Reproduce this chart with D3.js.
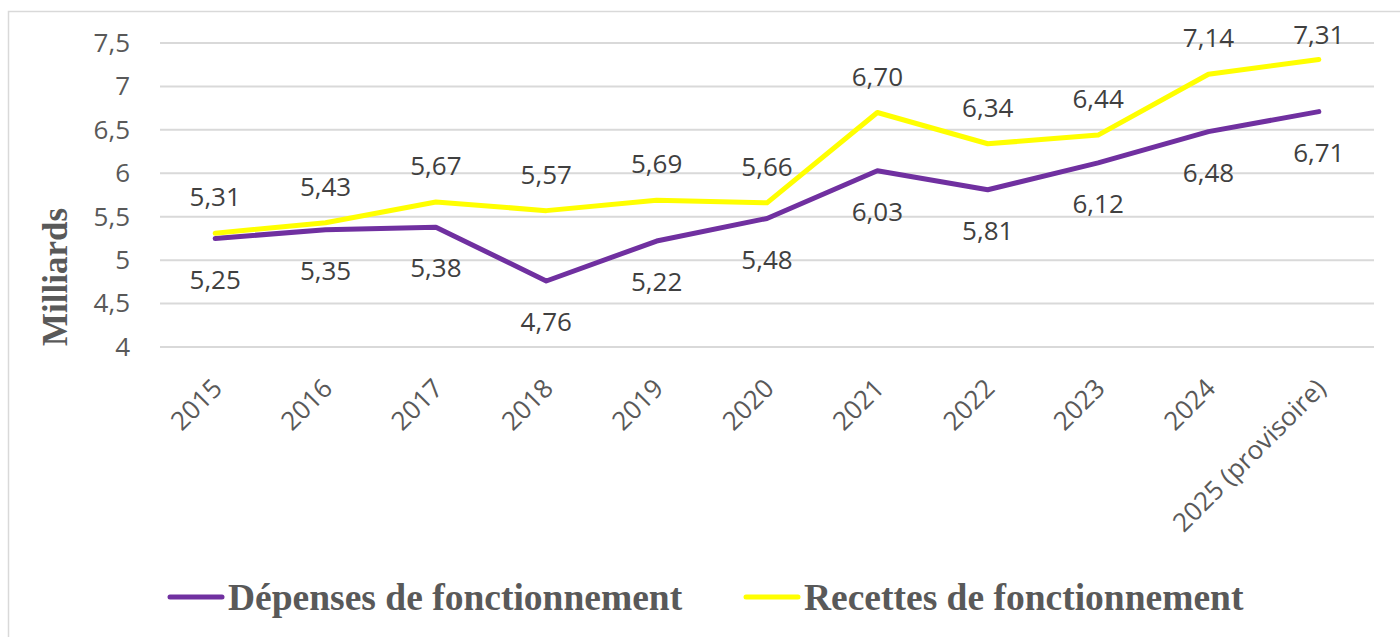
<!DOCTYPE html>
<html>
<head>
<meta charset="utf-8">
<script src="https://cdn.jsdelivr.net/npm/d3@7"></script>
<style>
  body { margin: 0; background: #fff; }
  svg { display: block; }
</style>
</head>
<body>
<div id="chart"></div>
<script>
// data
var years = ["2015", "2016", "2017", "2018", "2019", "2020", "2021", "2022", "2023", "2024", "2025 (provisoire)"];
var depenses = [5.25, 5.35, 5.38, 4.76, 5.22, 5.48, 6.03, 5.81, 6.12, 6.48, 6.71];
var recettes = [5.31, 5.43, 5.67, 5.57, 5.69, 5.66, 6.70, 6.34, 6.44, 7.14, 7.31];
var yTicks = [4, 4.5, 5, 5.5, 6, 6.5, 7, 7.5];
var seriesNames = ["Dépenses de fonctionnement", "Recettes de fonctionnement"];
var seriesColors = ["#7030A0", "#FFFF00"];

var W = 1400, H = 637;
var margin = { top: 43, right: 26, bottom: 290, left: 160 },
    width = W - margin.left - margin.right,
    height = H - margin.top - margin.bottom;

var svg = d3.select("#chart")
    .append("svg")
    .attr("width", W)
    .attr("height", H);

// outer border
svg.append("rect")
    .attr("x", 8.5).attr("y", 11.5)
    .attr("width", W).attr("height", H)
    .attr("fill", "none")
    .attr("stroke", "#d9d9d9")
    .attr("stroke-width", 1.5);

var g = svg.append("g")
    .attr("transform", "translate(" + margin.left + "," + margin.top + ")");

var x = d3.scalePoint()
    .domain(years)
    .range([0, width])
    .padding(0.5);

var y = d3.scaleLinear()
    .domain([4, 7.5])
    .range([height, 0]);

// grid
g.selectAll(".grid")
    .data(yTicks)
    .enter()
    .append("line")
    .attr("x1", 0).attr("x2", width)
    .attr("y1", function (d) { return y(d); })
    .attr("y2", function (d) { return y(d); })
    .attr("stroke", "#d9d9d9")
    .attr("stroke-width", 2);

var fmt = function (v, dec) { return v.toFixed(dec).replace(".", ","); };

// y axis labels
var yAxis = g.append("g")
    .call(d3.axisLeft(y).tickValues(yTicks).tickSize(0).tickPadding(30)
        .tickFormat(function (d) { return d % 1 === 0 ? String(d) : fmt(d, 1); }));
yAxis.select(".domain").remove();
yAxis.selectAll("text")
    .attr("fill", "#595959")
    .style("font-family", "'Open Sans', sans-serif")
    .style("font-size", "26px");

// x axis labels
var xAxis = g.append("g")
    .attr("transform", "translate(0," + height + ")")
    .call(d3.axisBottom(x).tickSize(0).tickPadding(0));
xAxis.select(".domain").remove();
xAxis.selectAll("text")
    .attr("fill", "#595959")
    .attr("text-anchor", "end")
    .attr("y", 0)
    .attr("dy", "0")
    .attr("transform", "translate(8,43) rotate(-45)")
    .style("font-family", "'Open Sans', sans-serif")
    .style("font-size", "26px");

// y title
svg.append("text")
    .attr("transform", "translate(55,277) rotate(-90)")
    .attr("text-anchor", "middle")
    .attr("dy", "0.35em")
    .attr("fill", "#595959")
    .style("font-family", "'Liberation Serif', serif")
    .style("font-weight", "bold")
    .style("font-size", "35px")
    .text("Milliards");

// lines
var line = d3.line()
    .x(function (d, i) { return x(years[i]); })
    .y(function (d) { return y(d); });

var allSeries = [depenses, recettes];
g.selectAll(".serie")
    .data(allSeries)
    .enter()
    .append("path")
    .attr("d", line)
    .attr("fill", "none")
    .attr("stroke", function (d, i) { return seriesColors[i]; })
    .attr("stroke-width", 5)
    .attr("stroke-linejoin", "round")
    .attr("stroke-linecap", "round");

// data labels (kept inside the plot area at the top, like excel does)
var offsets = [41, -36];
allSeries.forEach(function (serie, s) {
    g.selectAll(".lab" + s)
        .data(serie)
        .enter()
        .append("text")
        .attr("x", function (d, i) { return x(years[i]); })
        .attr("y", function (d) { return Math.max(y(d) + offsets[s], -8); })
        .attr("dy", "0.35em")
        .attr("text-anchor", "middle")
        .attr("fill", "#404040")
        .style("font-family", "'Open Sans', sans-serif")
        .style("font-size", "26px")
        .text(function (d) { return fmt(d, 2); });
});

// legend
var legendX = [170, 746];
seriesNames.forEach(function (name, i) {
    var lg = svg.append("g").attr("transform", "translate(" + legendX[i] + ",597)");
    lg.append("line")
        .attr("x1", 0).attr("x2", 52)
        .attr("stroke", seriesColors[i])
        .attr("stroke-width", 5)
        .attr("stroke-linecap", "round");
    lg.append("text")
        .attr("x", 58)
        .attr("dy", "0.35em")
        .attr("fill", "#595959")
        .style("font-family", "'Liberation Serif', serif")
        .style("font-weight", "bold")
        .style("font-size", "37.5px")
        .text(name);
});
</script>
</body>
</html>
